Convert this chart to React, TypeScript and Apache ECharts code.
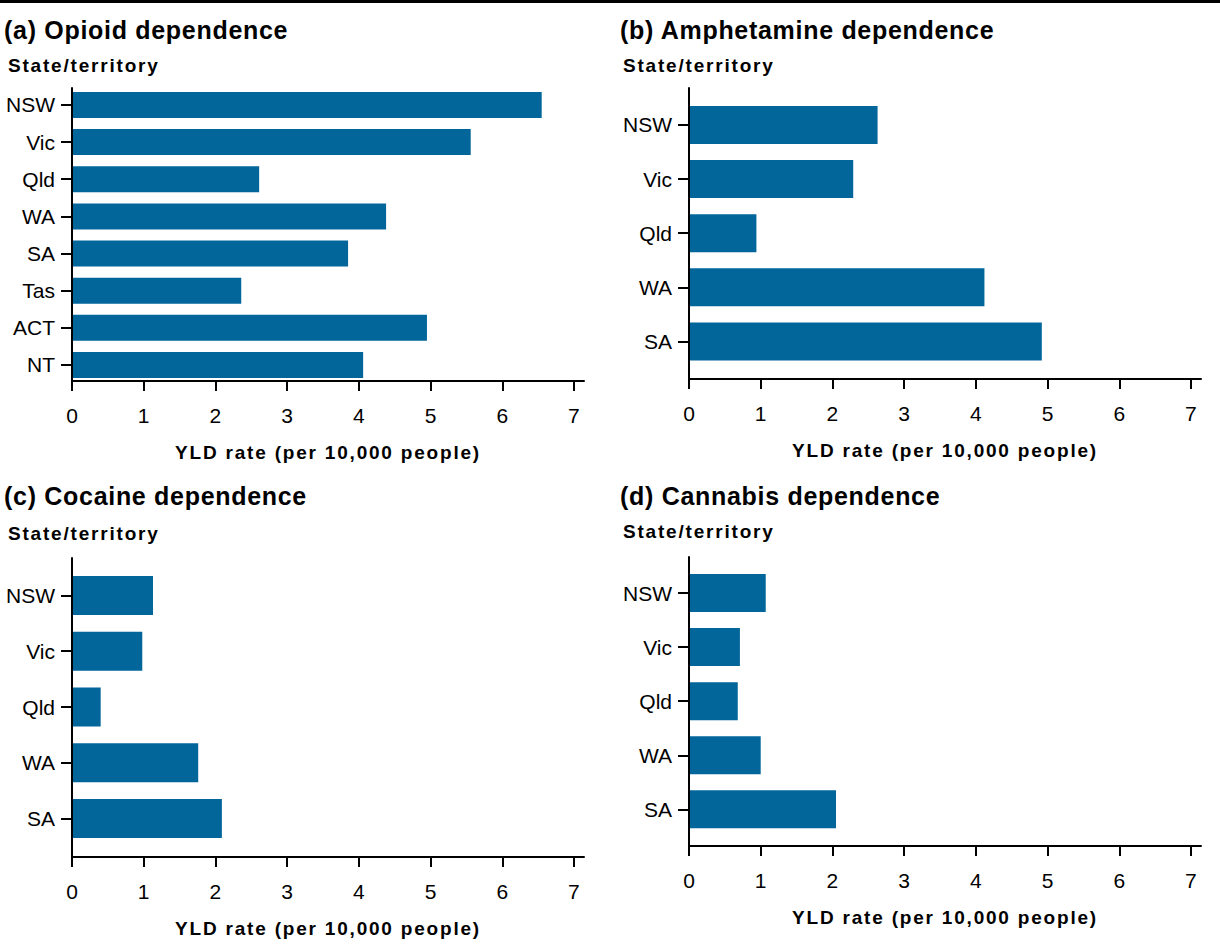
import React, { useEffect, useRef } from "react";
import * as echarts from "echarts";

// ---- data ----
const statesOpioid = ["NSW", "Vic", "Qld", "WA", "SA", "Tas", "ACT", "NT"];
const statesOther = ["NSW", "Vic", "Qld", "WA", "SA"];
const opioidRates = [6.55, 5.56, 2.61, 4.38, 3.85, 2.36, 4.95, 4.06];
const amphetamineRates = [2.63, 2.29, 0.94, 4.12, 4.92];
const cocaineRates = [1.13, 0.98, 0.4, 1.76, 2.09];
const cannabisRates = [1.07, 0.71, 0.68, 1.0, 2.05];
const xTickValues = [0, 1, 2, 3, 4, 5, 6, 7];
const panelTitles = [
  "(a) Opioid dependence",
  "(b) Amphetamine dependence",
  "(c) Cocaine dependence",
  "(d) Cannabis dependence",
];
const yAxisTitle = "State/territory";
const xAxisTitle = "YLD rate (per 10,000 people)";

// ---- layout ----
const FONT = "'Liberation Sans', Arial, Helvetica, sans-serif";
const BAR_COLOR = "#02669B";
const X_MAX = 7.14;
const panels = [
  { cats: statesOpioid, vals: opioidRates, left: 72, top: 88, axisY: 381, barTop: 86.4, barH: 297.1, barW: 26, titleX: 4, titleY: 30, subX: 8, subY: 65 },
  { cats: statesOther, vals: amphetamineRates, left: 689, top: 88, axisY: 379, barTop: 97.9, barH: 270.6, barW: 38, titleX: 620, titleY: 30, subX: 623, subY: 65 },
  { cats: statesOther, vals: cocaineRates, left: 72, top: 558, axisY: 857, barTop: 567.6, barH: 278.8, barW: 39, titleX: 4, titleY: 496, subX: 8, subY: 533 },
  { cats: statesOther, vals: cannabisRates, left: 689, top: 557, axisY: 846, barTop: 566, barH: 270.4, barW: 38, titleX: 620, titleY: 496, subX: 623, subY: 531 },
];
const PLOT_W = 512;

const css = `
.yld-chart svg text[style*="19px"], .yld-chart svg text[font-size="19"], .yld-chart svg text[font-size="19px"] { letter-spacing: 1.8px; }
.yld-chart svg text[style*="25px"], .yld-chart svg text[font-size="25"], .yld-chart svg text[font-size="25px"] { letter-spacing: 0.7px; }
`;

export default function App() {
  const ref = useRef<HTMLDivElement>(null);
  useEffect(() => {
    if (!ref.current) return;
    const chart = echarts.init(ref.current, undefined, { renderer: "svg" });
    const grid: any[] = [];
    const xAxis: any[] = [];
    const yAxis: any[] = [];
    const series: any[] = [];
    const graphic: any[] = [
      { type: "rect", shape: { x: 0, y: 0, width: 1220, height: 3 }, style: { fill: "#000" } },
    ];
    panels.forEach((p, i) => {
      const fi = i * 2;
      const bi = i * 2 + 1;
      grid.push({ left: p.left, top: p.top, width: PLOT_W, height: p.axisY - p.top });
      grid.push({ left: p.left, top: p.barTop, width: PLOT_W, height: p.barH });
      xAxis.push({
        gridIndex: fi, type: "value", min: 0, max: X_MAX, z: 5,
        axisLine: { show: true, lineStyle: { color: "#000", width: 2 } },
        axisTick: { show: true, customValues: xTickValues, length: 10, lineStyle: { color: "#000", width: 2 } },
        axisLabel: { show: true, customValues: xTickValues, fontSize: 21, color: "#000", fontFamily: FONT, margin: 24 },
        splitLine: { show: false },
        name: xAxisTitle, nameLocation: "middle", nameGap: 62,
        nameTextStyle: { fontSize: 19, fontWeight: "bold", color: "#000", fontFamily: FONT },
      });
      xAxis.push({ gridIndex: bi, type: "value", min: 0, max: X_MAX, show: false });
      yAxis.push({
        gridIndex: fi, type: "value", min: 0, max: 1, z: 5,
        axisLine: { show: true, lineStyle: { color: "#000", width: 2 } },
        axisTick: { show: false }, axisLabel: { show: false }, splitLine: { show: false },
      });
      yAxis.push({
        gridIndex: bi, type: "category", data: p.cats, inverse: true,
        axisLine: { show: false },
        axisTick: { show: true, alignWithLabel: true, length: 11, lineStyle: { color: "#000", width: 2 } },
        axisLabel: { fontSize: 21, color: "#000", fontFamily: FONT, margin: 17 },
        splitLine: { show: false },
      });
      series.push({
        type: "bar", xAxisIndex: bi, yAxisIndex: bi, data: p.vals, barWidth: p.barW,
        itemStyle: { color: BAR_COLOR }, silent: true,
      });
      graphic.push({
        type: "text", x: p.titleX, y: p.titleY,
        style: { text: panelTitles[i], fontSize: 25, fontWeight: "bold", fontFamily: FONT, fill: "#000", verticalAlign: "middle" },
      });
      graphic.push({
        type: "text", x: p.subX, y: p.subY,
        style: { text: yAxisTitle, fontSize: 19, fontWeight: "bold", fontFamily: FONT, fill: "#000", verticalAlign: "middle" },
      });
    });
    chart.setOption({
      animation: false,
      backgroundColor: "#fff",
      grid, xAxis, yAxis, series, graphic,
    });
    return () => chart.dispose();
  }, []);
  return (
    <>
      <style>{css}</style>
      <div
        ref={ref}
        className="yld-chart"
        style={{ position: "absolute", left: 0, top: 0, width: 1220, height: 944 }}
      />
    </>
  );
}
